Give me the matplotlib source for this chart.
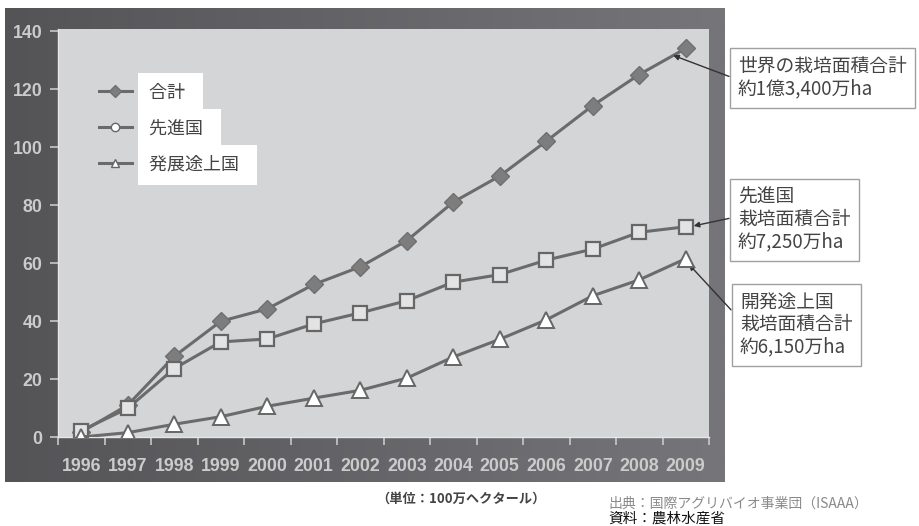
"""GM crop cultivation area, 1996-2009 (developed vs developing countries)."""

import matplotlib
matplotlib.use("Agg")
import matplotlib.pyplot as plt
import numpy as np
from matplotlib.lines import Line2D

plt.rcParams["font.family"] = ["Noto Sans CJK JP", "DejaVu Sans"]

# data (unit: million ha)
years = ["1996", "1997", "1998", "1999", "2000", "2001", "2002",
         "2003", "2004", "2005", "2006", "2007", "2008", "2009"]
total = [1.7, 11.0, 27.8, 39.9, 44.2, 52.6, 58.7,
         67.7, 81.0, 90.0, 102.0, 114.3, 125.0, 134.0]
developed = [2.2, 9.9, 23.6, 32.8, 33.8, 39.0, 42.8,
             47.0, 53.4, 56.0, 61.0, 64.8, 70.6, 72.5]
developing = [0.0, 1.5, 4.4, 7.0, 10.6, 13.4, 16.1,
              20.3, 27.6, 33.7, 40.4, 48.7, 54.2, 61.5]
series_labels = ["合計", "先進国", "発展途上国"]
callouts = [
    "世界の栽培面積合計\n約1億3,400万ha",
    "先進国\n栽培面積合計\n約7,250万ha",
    "開発途上国\n栽培面積合計\n約6,150万ha",
]
unit_note = "（単位：100万ヘクタール）"
source_note = "出典：国際アグリバイオ事業団（ISAAA）"
material_note = "資料：農林水産省"

W, H = 919, 526
fig = plt.figure(figsize=(W / 100, H / 100), dpi=100)

# dark outer frame with a soft horizontal gradient
bg = fig.add_axes([5 / W, 1 - 482 / H, 720 / W, 474 / H])
grad = np.linspace(0, 1, 256).reshape(1, -1)
bg.imshow(grad, aspect="auto", extent=[0, 1, 0, 1],
          cmap=matplotlib.colors.LinearSegmentedColormap.from_list(
              "frame", ["#545457", "#76767a"]))
bg.set_axis_off()

ax = fig.add_axes([58 / W, 1 - 437 / H, 651 / W, 408 / H])
ax.set_facecolor("#d4d5d7")

x = np.arange(len(years))
line_col = "#6b6b6b"
ax.plot(x, total, color=line_col, lw=2.2, marker="D", ms=9,
        mfc="#7d7d7d", mec="#6f6f6f", zorder=3)
ax.plot(x, developed, color=line_col, lw=2.2, marker="s", ms=10,
        mfc="#e3e3e3", mec="#666666", mew=1.6, zorder=4)
ax.plot(x, developing, color=line_col, lw=2.2, marker="^", ms=11,
        mfc="white", mec="#666666", mew=1.4, zorder=5)

ax.set_xlim(-0.5, len(years) - 0.5)
ax.set_ylim(0, 140.7)
ax.set_yticks(np.arange(0, 141, 20))

# x ticks on the category boundaries, labels at the centres
ax.set_xticks(np.arange(-0.5, len(years), 1.0))
ax.set_xticklabels([])
ax.set_xticks(x, minor=True)
ax.set_xticklabels(years, minor=True)

for t in ax.get_xticklabels(minor=True) + ax.get_yticklabels():
    t.set_fontfamily("Liberation Sans")
    t.set_fontweight("bold")
    t.set_fontsize(12.8)
ax.tick_params(axis="both", which="major", direction="out", length=6,
               width=1.2, color="#c8c8c8", labelcolor="#cbcbcb")
ax.tick_params(axis="x", which="minor", length=0, pad=15,
               labelcolor="#cbcbcb")
ax.tick_params(axis="y", pad=5)
for side in ["top", "right"]:
    ax.spines[side].set_visible(False)
for side in ["bottom", "left"]:
    ax.spines[side].set_color("#e6e6e6")
    ax.spines[side].set_linewidth(1)

# legend: each label in its own white box
handles = [
    Line2D([], [], color=line_col, lw=2.2, marker="D", ms=6,
           mfc="#7d7d7d", mec="#6f6f6f"),
    Line2D([], [], color=line_col, lw=2.2, marker="o", ms=6,
           mfc="white", mec="#666666"),
    Line2D([], [], color=line_col, lw=2.2, marker="^", ms=6,
           mfc="white", mec="#666666"),
]
leg = ax.legend(handles, [s + "  " for s in series_labels], loc="upper left",
                bbox_to_anchor=(0.063, 0.866), frameon=False,
                fontsize=13, handlelength=1.8, handletextpad=0.95,
                labelspacing=1.0, borderaxespad=0, borderpad=0)
for t in leg.get_texts():
    t.set_color("#444444")
    t.set_bbox(dict(boxstyle="square,pad=0.6", fc="white", ec="none"))

# call-out boxes on the right of the frame
box = dict(boxstyle="square,pad=0.45", fc="white", ec="#a0a0a0", lw=1)
arrow = dict(arrowstyle="-|>", color="#333333", lw=1, mutation_scale=8,
             shrinkA=0, shrinkB=0)
ax.annotate(callouts[0], xy=(x[-1] - 0.27, total[-1] - 2.4),
            xytext=(738, H - 56), textcoords="figure pixels",
            ha="left", va="top", fontsize=13.5, color="#444444",
            linespacing=1.08, bbox=box,
            arrowprops=dict(arrow, relpos=(0, 0.45)), annotation_clip=False)
ax.annotate(callouts[1], xy=(x[-1] + 0.17, developed[-1] + 0.3),
            xytext=(738, H - 187), textcoords="figure pixels",
            ha="left", va="top", fontsize=13.5, color="#444444",
            linespacing=1.08, bbox=box,
            arrowprops=dict(arrow, relpos=(0, 0.55)), annotation_clip=False)
ax.annotate(callouts[2], xy=(x[-1] + 0.07, developing[-1] - 2.0),
            xytext=(740, H - 292), textcoords="figure pixels",
            ha="left", va="top", fontsize=13.5, color="#444444",
            linespacing=1.08, bbox=box,
            arrowprops=dict(arrow, relpos=(0, 0.58)), annotation_clip=False)

# notes under the chart
fig.text(461 / W, 1 - 499 / H, unit_note, ha="center", va="center",
         fontsize=9.5, weight="bold", color="#444444")
fig.text(608 / W, 1 - 504 / H, source_note, ha="left", va="center",
         fontsize=10, color="#8a8a8a")
fig.text(608 / W, 1 - 519 / H, material_note, ha="left", va="center",
         fontsize=10.5, color="#111111")

fig.savefig("out.png", dpi=100)
